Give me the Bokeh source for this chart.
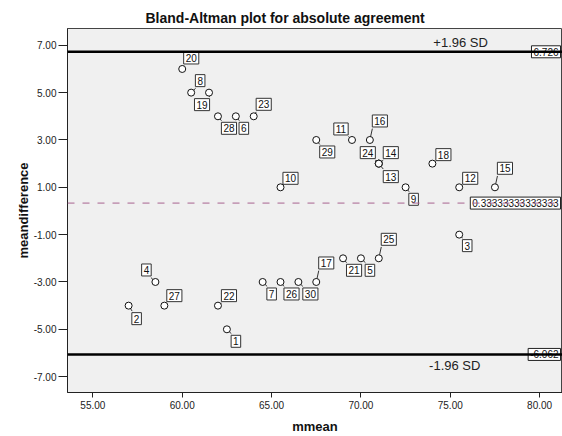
from bokeh.plotting import figure
from bokeh.models import ColumnDataSource, Range1d, FixedTicker, NumeralTickFormatter, Span
from bokeh.core.properties import value
from bokeh.embed import file_html
from bokeh.resources import INLINE

# ---------------- data ----------------
case_ids = [str(i) for i in range(1, 31)]
mmean = [62.5, 57.0, 75.5, 58.5, 70.0, 63.0, 64.5, 60.5, 72.5, 65.5,
         69.5, 75.5, 71.0, 71.0, 77.5, 70.5, 67.5, 74.0, 61.5, 60.0,
         69.0, 62.0, 64.0, 71.0, 71.0, 65.5, 59.0, 62.0, 67.5, 66.5]
meandifference = [-5, -4, -1, -3, -2, 4, -3, 5, 1, 1,
                  3, 1, 2, 2, 1, 3, -3, 2, 5, 6,
                  -2, -4, 4, 2, -2, -3, -4, 4, 3, -3]
mean_diff = 0.33333333333333
upper_loa = 6.726
lower_loa = -6.062
mean_label = "0.33333333333333"
upper_label = "6.726"
lower_label = "-6.062"
x_ticks = [55, 60, 65, 70, 75, 80]
y_ticks = [-7, -5, -3, -1, 1, 3, 5, 7]

# ---------------- layout / style ----------------
W, H = 562, 436
BL, BR, BT, BB = 67, 0, 28, 39
x0, x1 = 53.58, 81.28
y0, y1 = -7.67, 7.71
FONT = "Liberation Sans"

# label box offsets in screen px (dx right, dy down) for each case
label_dx = [9, 8, 8, -9, 9, 8, 9, 9, 8, 10,
            -11, 11, 12, 12, 10, 10, 10, 11, -7, 9,
            11, 11, 10, -11, 10, 11, 10, 11, 11, 12]
label_dy = [12, 13, 11, -12, 12, 12, 12, -12, 12, -9,
            -11, -9, 13, -11, -19, -19, -19, -9, 12, -11,
            12, -10, -12, -11, -19, 12, -10, 12, 12, 12]

p = figure(width=W, height=H, output_backend="svg", toolbar_location=None,
           x_range=Range1d(x0, x1), y_range=Range1d(y0, y1),
           min_border_left=BL, min_border_right=BR, min_border_top=BT, min_border_bottom=BB)
p.background_fill_color = "#F0F0F0"
p.border_fill_color = "white"
p.outline_line_color = "#444444"
p.outline_line_width = 1
p.grid.visible = False

p.title.text = "Bland-Altman plot for absolute agreement"
p.title.text_font = FONT
p.title.text_font_size = "14px"
p.title.text_font_style = "bold"
p.title.text_color = "#111111"
p.title.align = "left"
p.title.offset = 78
p.title.standoff = 6

for ax in (p.xaxis[0], p.yaxis[0]):
    ax.axis_line_color = "#222222"
    ax.major_tick_line_color = "#222222"
    ax.minor_tick_line_color = None
    ax.major_tick_in = 0
    ax.major_label_text_font = FONT
    ax.major_label_text_font_size = "10px"
    ax.major_label_text_color = "#222222"
    ax.axis_label_text_font = FONT
    ax.axis_label_text_font_size = "13px"
    ax.axis_label_text_font_style = "bold"
    ax.axis_label_text_color = "#111111"
    ax.formatter = NumeralTickFormatter(format="0.00")

p.xaxis.ticker = FixedTicker(ticks=x_ticks)
p.yaxis.ticker = FixedTicker(ticks=y_ticks)
p.xaxis.axis_label = "mmean"
p.yaxis.axis_label = "meandifference"
p.xaxis.major_tick_out = 5
p.xaxis.major_label_standoff = 3
p.xaxis.axis_label_standoff = 7
p.yaxis.major_tick_out = 9
p.yaxis.major_label_standoff = 2
p.yaxis.axis_label_standoff = 0

# reference lines
p.add_layout(Span(location=mean_diff, dimension="width", line_color="#A8628F",
                  line_width=1, line_dash="7 8"))
p.add_layout(Span(location=upper_loa, dimension="width", line_color="black", line_width=2.6))
p.add_layout(Span(location=lower_loa, dimension="width", line_color="black", line_width=2.6))

# reference line value boxes, right-aligned at the frame edge
ref_src = ColumnDataSource(dict(x=[x1] * 3, y=[upper_loa, mean_diff, lower_loa],
                                t=[upper_label, mean_label, lower_label]))
p.text(x="x", y="y", text="t", source=ref_src, x_offset=-2, text_align="right",
       text_baseline="middle", text_font=value(FONT), text_font_size="10px",
       text_color="#111111", background_fill_color="white", border_line_color="#222222",
       border_line_width=1, padding=2)

# +/- 1.96 SD labels
sd_src = ColumnDataSource(dict(x=[75.58, 75.25], y=[upper_loa, lower_loa],
                               t=["+1.96 SD", "-1.96 SD"], yo=[-9, 11]))
p.text(x="x", y="y", text="t", y_offset="yo", source=sd_src, text_align="center",
       text_baseline="middle", text_font=value(FONT), text_font_size="13px",
       text_color="#222222")

# leader lines from point to box corner
sx = (W - BL - BR) / (x1 - x0)
sy = (H - BT - BB) / (y1 - y0)
lx1, ly1 = [], []
for xi, yi, cid, dx, dy in zip(mmean, meandifference, case_ids, label_dx, label_dy):
    hw = 4.5 if len(cid) == 1 else 7.5
    hh = 7.5
    cx = dx - (hw if dx > 0 else -hw)
    cy = dy - (hh if dy > 0 else -hh)
    lx1.append(xi + cx / sx)
    ly1.append(yi - cy / sy)
p.segment(x0=mmean, y0=meandifference, x1=lx1, y1=ly1, line_color="#333333", line_width=1)

# points
pts = ColumnDataSource(dict(x=mmean, y=meandifference, id=case_ids, dx=label_dx, dy=label_dy))
p.scatter(x="x", y="y", source=pts, size=7, marker="circle", fill_color="white",
          line_color="#111111", line_width=1)

# case labels
p.text(x="x", y="y", text="id", x_offset="dx", y_offset="dy", source=pts,
       text_align="center", text_baseline="middle", text_font=value(FONT),
       text_font_size="10px", text_color="#111111",
       background_fill_color="white", border_line_color="#333333", border_line_width=1,
       padding=2)

open("out.html", "w").write(file_html(p, INLINE))
